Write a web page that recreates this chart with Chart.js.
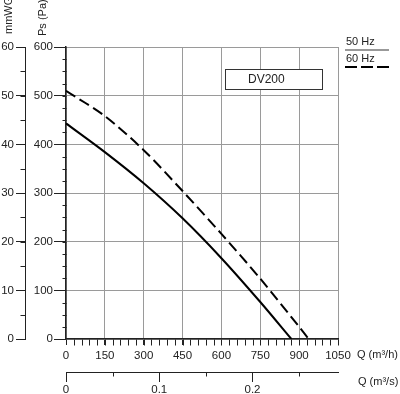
<!DOCTYPE html>
<html>
<head>
<meta charset="utf-8">
<script src="https://cdn.jsdelivr.net/npm/chart.js@4.4.1/dist/chart.umd.min.js"></script>
<style>
  html, body { margin: 0; padding: 0; background: #fff; }
  #fanChart { display: block; }
</style>
</head>
<body>
<canvas id="fanChart" width="400" height="394"></canvas>
<script>
// fan curve DV200 - static pressure vs flow
const flow50 = [0, 150, 300, 450, 600, 750, 870];
const ps50 = [443, 384, 320, 248, 166, 76, 0];
const flow60 = [0, 150, 300, 450, 600, 750, 900, 937];
const ps60 = [510, 458, 388, 304, 216, 124, 25, 0];

const qTicks = [0, 150, 300, 450, 600, 750, 900, 1050];
const paTicks = [0, 100, 200, 300, 400, 500, 600];
const mmTicks = [0, 10, 20, 30, 40, 50, 60];
const qsTicks = [0, 0.1, 0.2];
const seriesLabels = ['50 Hz', '60 Hz'];
const modelName = 'DV200';

const FONT = '"Liberation Sans", Arial, sans-serif';
const INK = '#222';
const GRID = '#9a9a9a';

function toPoints(xs, ys) {
    return xs.map((x, i) => ({ x: x, y: ys[i] }));
}

// minor tick marks + labels the library doesn't do on its own
const extras = {
    id: 'extras',
    afterDraw(chart) {
        const ctx = chart.ctx;
        const s = chart.scales;
        ctx.save();
        ctx.strokeStyle = INK;
        ctx.lineWidth = 1;

        function leftMinor(scale, from, to, step, len) {
            const x0 = Math.round(scale.right) + 0.5;
            for (let v = from; v <= to + 1e-9; v += step) {
                const y = Math.round(scale.getPixelForValue(v)) + 0.5;
                ctx.beginPath();
                ctx.moveTo(x0 - len, y);
                ctx.lineTo(x0, y);
                ctx.stroke();
            }
        }
        function bottomMinor(scale, from, to, step, len) {
            const y0 = Math.round(scale.top) + 0.5;
            for (let v = from; v <= to + 1e-9; v += step) {
                const x = Math.round(scale.getPixelForValue(v)) + 0.5;
                ctx.beginPath();
                ctx.moveTo(x, y0);
                ctx.lineTo(x, y0 + len);
                ctx.stroke();
            }
        }
        leftMinor(s.y, 25, 600, 25, 4);
        leftMinor(s.y2, 5, 60, 5, 5);
        bottomMinor(s.x, 30, 1050, 30, 6);
        bottomMinor(s.x2, 0.05, 0.25, 0.1, 4);

        ctx.fillStyle = INK;
        ctx.textBaseline = 'middle';

        // axis titles
        ctx.font = '11px ' + FONT;
        ctx.textAlign = 'left';
        ctx.save();
        ctx.translate(9, 34);
        ctx.rotate(-Math.PI / 2);
        ctx.fillText('mmWG', 0, 0);
        ctx.restore();
        ctx.save();
        ctx.translate(43, 36);
        ctx.rotate(-Math.PI / 2);
        ctx.fillText('Ps (Pa)', 0, 0);
        ctx.restore();

        ctx.fillText('Q (m³/h)', 357, 355);
        ctx.fillText('Q (m³/s)', 358, 382);

        // legend
        ctx.fillText(seriesLabels[0], 346, 42);
        ctx.fillText(seriesLabels[1], 346, 59);
        ctx.strokeStyle = '#777';
        ctx.lineWidth = 1.5;
        ctx.beginPath();
        ctx.moveTo(345, 50);
        ctx.lineTo(389, 50);
        ctx.stroke();
        ctx.strokeStyle = '#000';
        ctx.lineWidth = 2;
        ctx.setLineDash([12, 4]);
        ctx.beginPath();
        ctx.moveTo(345, 67);
        ctx.lineTo(389, 67);
        ctx.stroke();
        ctx.setLineDash([]);

        // model box
        ctx.strokeStyle = '#333';
        ctx.lineWidth = 1;
        ctx.fillStyle = '#fff';
        ctx.fillRect(225.5, 69.5, 97, 20);
        ctx.strokeRect(225.5, 69.5, 97, 20);
        ctx.fillStyle = INK;
        ctx.font = '12px ' + FONT;
        ctx.fillText(modelName, 248, 80);

        ctx.restore();
    }
};

const tickFont = { family: FONT, size: 11.5 };
const plainLabel = v => String(v);

new Chart(document.getElementById('fanChart'), {
    type: 'line',
    data: {
        datasets: [
            {
                label: seriesLabels[0],
                data: toPoints(flow50, ps50),
                borderColor: '#000',
                borderWidth: 2,
                pointRadius: 0,
                tension: 0.3,
                fill: false,
                xAxisID: 'x',
                yAxisID: 'y'
            },
            {
                label: seriesLabels[1],
                data: toPoints(flow60, ps60),
                borderColor: '#000',
                borderWidth: 2,
                borderDash: [11, 5],
                pointRadius: 0,
                tension: 0.3,
                fill: false,
                xAxisID: 'x',
                yAxisID: 'y'
            }
        ]
    },
    options: {
        responsive: false,
        animation: false,
        devicePixelRatio: 1,
        layout: { padding: { top: 47, right: 62, left: 0, bottom: 0 } },
        plugins: {
            legend: { display: false },
            tooltip: { enabled: false }
        },
        scales: {
            x: {
                type: 'linear',
                position: 'bottom',
                weight: 0,
                min: qTicks[0],
                max: qTicks[qTicks.length - 1],
                afterBuildTicks: s => { s.ticks = qTicks.map(v => ({ value: v })); },
                afterFit: s => { s.height = 33; },
                ticks: { color: INK, font: tickFont, padding: 4, maxRotation: 0, autoSkip: false, includeBounds: false, callback: plainLabel },
                grid: { color: GRID, lineWidth: 1, tickColor: INK, tickLength: 6 },
                border: { color: INK, width: 1.5 }
            },
            x2: {
                type: 'linear',
                position: 'bottom',
                weight: 1,
                min: 0,
                max: qTicks[qTicks.length - 1] / 3600,
                afterBuildTicks: s => { s.ticks = qsTicks.map(v => ({ value: v })); },
                afterFit: s => { s.height = 22; },
                ticks: { color: INK, font: tickFont, padding: 1, maxRotation: 0, autoSkip: false, includeBounds: false, callback: plainLabel },
                grid: { drawOnChartArea: false, tickColor: INK, tickLength: 10 },
                border: { color: INK, width: 1 }
            },
            y: {
                type: 'linear',
                position: 'left',
                weight: 0,
                min: paTicks[0],
                max: paTicks[paTicks.length - 1],
                afterBuildTicks: s => { s.ticks = paTicks.map(v => ({ value: v })); },
                afterFit: s => { s.width = 41; },
                ticks: { color: INK, font: tickFont, padding: 1, autoSkip: false, includeBounds: false, callback: plainLabel },
                grid: { color: GRID, lineWidth: 1, tickColor: INK, tickLength: 12 },
                border: { color: INK, width: 1.5 }
            },
            y2: {
                type: 'linear',
                position: 'left',
                weight: 1,
                min: mmTicks[0],
                max: mmTicks[mmTicks.length - 1],
                afterBuildTicks: s => { s.ticks = mmTicks.map(v => ({ value: v })); },
                afterFit: s => { s.width = 25; },
                ticks: { color: INK, font: tickFont, padding: 2, autoSkip: false, includeBounds: false, callback: plainLabel },
                grid: { drawOnChartArea: false, tickColor: INK, tickLength: 9 },
                border: { color: INK, width: 1 }
            }
        }
    },
    plugins: [extras]
});
</script>
</body>
</html>
